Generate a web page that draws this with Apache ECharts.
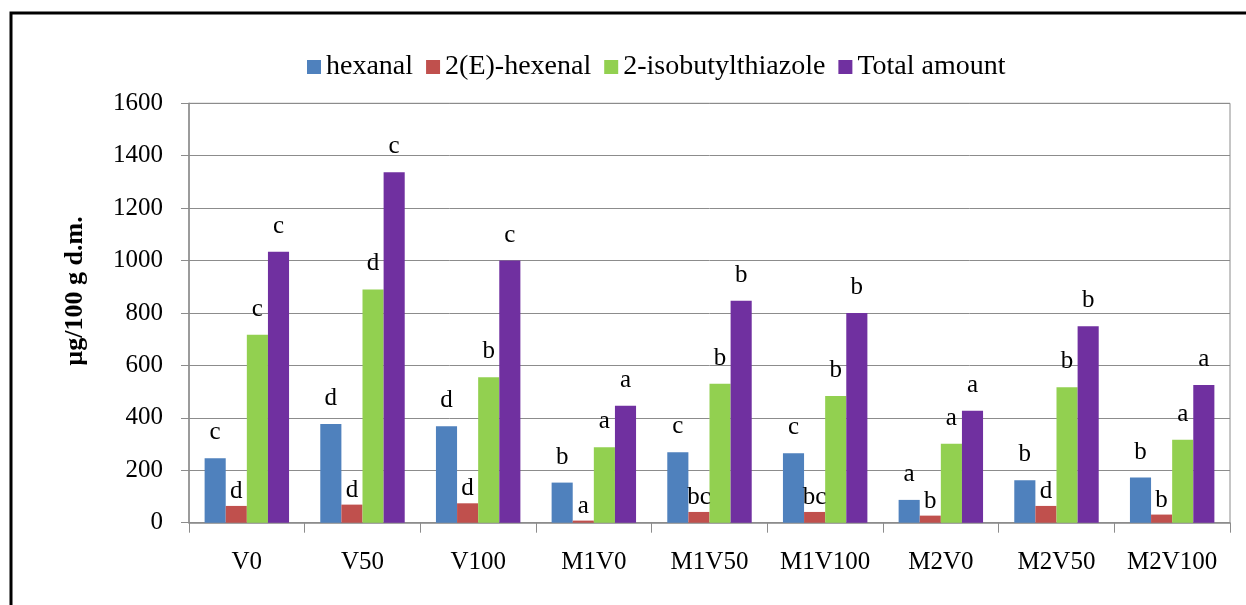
<!DOCTYPE html>
<html>
<head>
<meta charset="utf-8">
<script src="https://cdn.jsdelivr.net/npm/echarts@6/dist/echarts.min.js"></script>
<style>
html,body{margin:0;padding:0;background:#fff;}
#c{width:1246px;height:605px;}
</style>
</head>
<body>
<div id="c"></div>
<script>
const categories = ['V0','V50','V100','M1V0','M1V50','M1V100','M2V0','M2V50','M2V100'];
const seriesNames = ['hexanal','2(E)-hexenal','2-isobutylthiazole','Total amount'];
const hexanal = [246, 377, 368, 153, 269, 265, 87, 162, 172];
const hexenal = [64, 69, 74, 8, 41, 41, 27, 64, 31];
const thiazole = [717, 890, 555, 288, 530, 483, 301, 517, 316];
const total = [1034, 1337, 1000, 446, 847, 800, 427, 749, 525];
const lettersHexanal = ['c','d','d','b','c','c','a','b','b'];
const lettersHexenal = ['d','d','d','a','bc','bc','b','d','b'];
const lettersThiazole = ['c','d','b','a','b','b','a','b','a'];
const lettersTotal = ['c','c','c','a','b','b','a','b','a'];
const colors = ['#4F81BD','#C0504D','#92D050','#7030A0'];

const FONT = "'Liberation Serif', serif";
const chart = echarts.init(document.getElementById('c'), null, {renderer:'canvas'});

function mkSeries(i, values, letters, dist){
  return {
    name: seriesNames[i],
    type: 'bar',
    data: values,
    barGap: '0%',
    barCategoryGap: '27%',
    itemStyle: {color: colors[i]},
    label: {
      show: true,
      position: 'top',
      distance: dist,
      fontFamily: FONT,
      fontSize: 25,
      color: '#000',
      formatter: p => letters[p.dataIndex]
    }
  };
}

chart.setOption({
  animation: false,
  backgroundColor: '#fff',
  color: colors,
  textStyle: {fontFamily: FONT},
  graphic: [{
    type: 'rect',
    shape: {x: 11, y: 13, width: 1400, height: 800},
    style: {fill: 'none', stroke: '#000', lineWidth: 3},
    silent: true
  }],
  legend: {
    left: 302,
    top: 48,
    itemWidth: 14,
    itemHeight: 14,
    itemGap: 13,
    icon: 'rect',
    textStyle: {fontFamily: FONT, fontSize: 28, color: '#000'},
    data: seriesNames
  },
  grid: {
    left: 189, right: 16, top: 103.3, bottom: 82.3,
    show: true, borderColor: '#8c8c8c', borderWidth: 1, containLabel: false
  },
  xAxis: {
    type: 'category',
    data: categories,
    axisLine: {lineStyle: {color: '#8c8c8c', width: 1.5}},
    axisTick: {show: true, length: 10, interval: 0, alignWithLabel: false, lineStyle: {color: '#8c8c8c'}},
    axisLabel: {interval: 0, fontFamily: FONT, fontSize: 25, color: '#000', margin: 27}
  },
  yAxis: {
    type: 'value',
    min: 0, max: 1600, interval: 200,
    name: 'µg/100 g d.m.',
    nameLocation: 'middle',
    nameRotate: 90,
    nameGap: 101,
    nameTextStyle: {fontFamily: FONT, fontSize: 26, fontWeight: 'bold', color: '#000', padding: [0,0,0,44]},
    axisLine: {show: true, lineStyle: {color: '#8c8c8c', width: 1.5}},
    axisTick: {show: true, length: 8, lineStyle: {color: '#8c8c8c'}},
    axisLabel: {fontFamily: FONT, fontSize: 25, color: '#000', margin: 26, formatter: v => String(v)},
    splitLine: {lineStyle: {color: '#8c8c8c', width: 1}}
  },
  series: [
    mkSeries(0, hexanal, lettersHexanal, 13),
    mkSeries(1, hexenal, lettersHexenal, 2),
    mkSeries(2, thiazole, lettersThiazole, 13),
    mkSeries(3, total, lettersTotal, 13)
  ]
});
</script>
</body>
</html>
